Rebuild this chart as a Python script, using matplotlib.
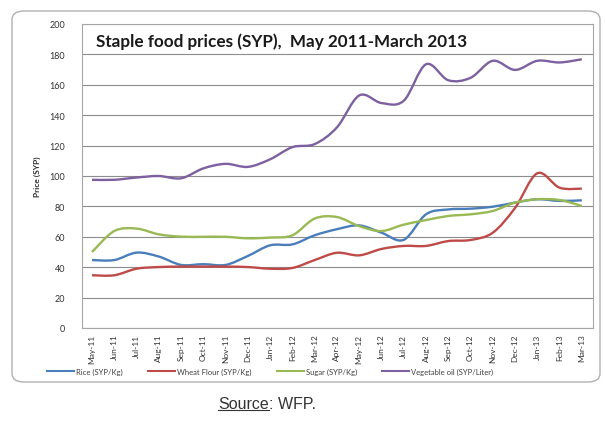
import numpy as np
import matplotlib
matplotlib.use("Agg")
import matplotlib.pyplot as plt
from matplotlib.path import Path
from matplotlib.patches import PathPatch, FancyBboxPatch
from matplotlib.lines import Line2D

plt.rcParams['font.family'] = ['Lato', 'DejaVu Sans']

# Monthly prices, May 2011 - March 2013
months = ["May-11", "Jun-11", "Jul-11", "Aug-11", "Sep-11", "Oct-11", "Nov-11", "Dec-11",
          "Jan-12", "Feb-12", "Mar-12", "Apr-12", "May-12", "Jun-12", "Jul-12", "Aug-12",
          "Sep-12", "Oct-12", "Nov-12", "Dec-12", "Jan-13", "Feb-13", "Mar-13"]
rice = [44.7, 44.7, 49.6, 47, 41.5, 42, 41.5, 47.4, 54.4, 55, 61, 65, 67.5, 62.7, 58,
        74.8, 78, 78.5, 79.8, 82.5, 84.7, 83.6, 84]
wheat_flour = [34.7, 34.7, 39, 40.1, 40.4, 40.4, 40.4, 40.1, 39, 39.5, 44.7, 49.5, 47.8,
               52, 54, 54, 57.2, 57.9, 62.7, 79, 101.8, 92.3, 91.7]
sugar = [50, 63.8, 65.4, 61.6, 60.1, 60, 60, 59, 59.5, 61, 72, 73, 67, 63.8, 68, 71,
         73.7, 74.8, 77, 82.5, 84.7, 84.2, 80.3]
veg_oil = [97.5, 97.5, 99, 100, 98.5, 105, 108, 106, 111, 119, 121, 132, 153, 148,
           149.5, 173.5, 163, 164.6, 175.8, 169.8, 175.8, 174.7, 176.8]

series = [
    ("Rice (SYP/Kg)", rice, "#4a7ebb"),
    ("Wheat Flour (SYP/Kg)", wheat_flour, "#be4b48"),
    ("Sugar (SYP/Kg)", sugar, "#98b954"),
    ("Vegetable oil (SYP/Liter)", veg_oil, "#7d60a0"),
]


def smooth_path(xs, ys):
    # Catmull-Rom style smoothing drawn as cubic Bezier segments
    pts = np.column_stack([xs, ys]).astype(float)
    n = len(pts)
    verts = [pts[0]]
    codes = [Path.MOVETO]
    for i in range(n - 1):
        p0 = pts[i - 1] if i > 0 else pts[i]
        p1 = pts[i]
        p2 = pts[i + 1]
        p3 = pts[i + 2] if i + 2 < n else pts[i + 1]
        verts += [p1 + (p2 - p0) / 6, p2 - (p3 - p1) / 6, p2]
        codes += [Path.CURVE4] * 3
    return Path(verts, codes)


fig = plt.figure(figsize=(6.05, 4.27), dpi=100)

# rounded frame around the chart area
frame = FancyBboxPatch((12 / 605, 1 - 383 / 427), 588 / 605, 371 / 427,
                       boxstyle="round,pad=0,rounding_size=0.02",
                       transform=fig.transFigure, facecolor="white",
                       edgecolor="#b0b0b0", linewidth=1.0, zorder=-1)
fig.patches.append(frame)

ax = fig.add_axes([82 / 605, 1 - 329 / 427, 511 / 605, 304 / 427])
ax.set_facecolor("none")

x = np.arange(len(months))
for label, vals, color in series:
    ax.add_patch(PathPatch(smooth_path(x, vals), fill=False, edgecolor=color,
                           linewidth=1.7, zorder=3))

ax.set_xlim(-0.45, len(months) - 1 + 0.5)
ax.set_ylim(0, 200)
ax.set_yticks(range(0, 201, 20))
ax.yaxis.grid(True, color="#8c8c8c", linewidth=0.8)
ax.set_axisbelow(True)
ax.set_xticks(x)
ax.set_xticklabels(months, rotation=90, fontsize=6, color="#333333")
ax.tick_params(axis="y", labelsize=6.5, labelcolor="#333333", length=0, pad=12)
ax.tick_params(axis="x", length=0, pad=4)
for s in ax.spines.values():
    s.set_color("#a6a6a6")
    s.set_linewidth(0.8)

ax.set_ylabel("Price (SYP)", fontsize=6, fontweight="bold", color="#303030", labelpad=6)

ax.text(0.028, 0.945, "Staple food prices (SYP),  May 2011-March 2013",
        transform=ax.transAxes, fontsize=12.3, fontweight="bold", color="#1a1a1a",
        va="center", ha="left")

handles = [Line2D([0], [0], color=c, linewidth=1.5) for _, _, c in series]
fig.legend(handles, [s[0] for s in series], loc="center", ncol=4,
           bbox_to_anchor=(0.447, 1 - 372 / 427), frameon=False, fontsize=5.5,
           handlelength=3.5, handletextpad=0.3, columnspacing=3.3,
           labelcolor="#404040")

# source note with underlined word
src_x = 269 / 605
src = fig.text(src_x, 1 - 405 / 427, "Source", fontsize=11.5, ha="right", va="center",
               color="#333333", family="Liberation Sans")
fig.text(src_x, 1 - 405 / 427, ": WFP.", fontsize=11.5, ha="left", va="center",
         color="#333333", family="Liberation Sans")
fig.canvas.draw()
bb = src.get_window_extent().transformed(fig.transFigure.inverted())
fig.add_artist(Line2D([bb.x0, bb.x1], [bb.y0 + 0.004, bb.y0 + 0.004],
                      transform=fig.transFigure, color="#333333", linewidth=0.8))

fig.savefig("out.png", dpi=100)
